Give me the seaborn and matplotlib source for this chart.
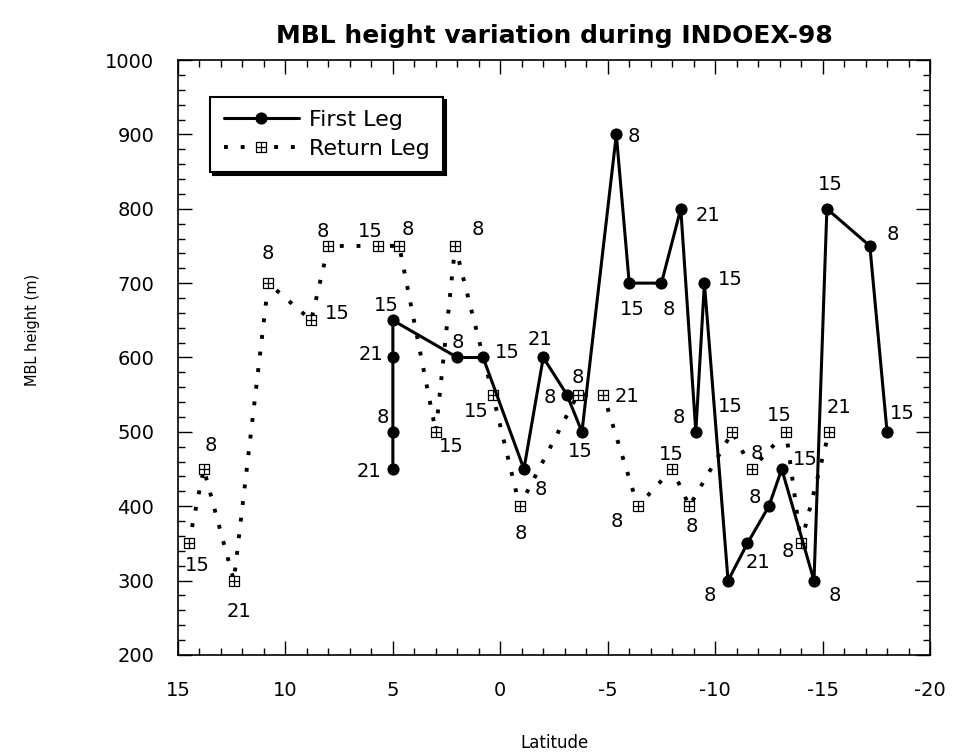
import matplotlib
matplotlib.use("Agg")
import matplotlib.pyplot as plt
from matplotlib.path import Path
import seaborn as sns
import pandas as pd

# ---- data ----
first_lat = [5, 5, 5, 5, 2, 0.8, -1.1, -2, -3.1, -3.8, -5.4, -6, -7.5, -8.4, -9.1,
             -9.5, -10.6, -11.5, -12.5, -13.1, -14.6, -15.2, -17.2, -18]
first_h = [450, 500, 600, 650, 600, 600, 450, 600, 550, 500, 900, 700, 700, 800, 500,
           700, 300, 350, 400, 450, 300, 800, 750, 500]
first_hour = ["21", "8", "21", "15", "8", "15", "8", "21", "8", "15", "8", "15", "8", "21", "8",
              "15", "8", "21", "8", "15", "8", "15", "8", "15"]

return_lat = [14.5, 13.8, 12.4, 10.8, 8.8, 8, 5.7, 4.7, 3, 2.1, 0.35, -0.9, -3.6, -4.8,
              -6.4, -8, -8.8, -10.8, -11.7, -13.3, -14, -15.3]
return_h = [350, 450, 300, 700, 650, 750, 750, 750, 500, 750, 550, 400, 550, 550,
            400, 450, 400, 500, 450, 500, 350, 500]
return_hour = ["15", "8", "21", "8", "15", "8", "15", "8", "15", "8", "15", "8", "8", "21",
               "8", "15", "8", "15", "8", "15", "8", "21"]

# label offsets (pixels) – layout only
first_off = [(-24, -2), (-10, 14), (-22, 3), (-7, 15), (0, 15), (24, 5), (17, -20), (-3, 18),
             (-17, -3), (-2, -20), (17, -2), (3, -26), (7, -26), (27, -7), (-17, 14), (26, 4),
             (-18, -15), (11, -19), (-14, 9), (24, 10), (21, -15), (3, 24), (23, 11), (15, 18)]
return_off = [(9, -22), (7, 24), (5, -31), (0, 30), (26, 7), (-6, 14), (-8, 14), (9, 16),
              (15, -15), (23, 16), (-16, -17), (1, -27), (0, 17), (24, -2), (-21, -15), (-1, 15),
              (2, -20), (-2, 25), (5, 16), (-7, 16), (-13, -8), (10, 24)]

sns.set_theme(style="ticks")
plt.rcParams["font.family"] = ["DejaVu Sans"]
plt.rcParams.update({"text.color": "black", "axes.labelcolor": "black",
                     "xtick.color": "black", "ytick.color": "black"})

fig = plt.figure(figsize=(9.58, 7.55), dpi=100)
ax = fig.add_axes([0.1858, 0.1325, 0.785, 0.788])

df1 = pd.DataFrame({"lat": first_lat, "h": first_h})
df2 = pd.DataFrame({"lat": return_lat, "h": return_h})

boxplus = Path([(-1, -1), (1, -1), (1, 1), (-1, 1), (-1, -1), (0, -1), (0, 1), (-1, 0), (1, 0)],
               [Path.MOVETO, Path.LINETO, Path.LINETO, Path.LINETO, Path.CLOSEPOLY,
                Path.MOVETO, Path.LINETO, Path.MOVETO, Path.LINETO])

sns.lineplot(data=df2, x="lat", y="h", sort=False, estimator=None, ax=ax,
             color="black", linewidth=2.8, linestyle=(0, (1, 3.3)), dash_capstyle="butt",
             marker=boxplus, markersize=7.5, markerfacecolor="white",
             markeredgecolor="black", markeredgewidth=0.9, label="Return Leg", zorder=2)
sns.lineplot(data=df1, x="lat", y="h", sort=False, estimator=None, ax=ax,
             color="black", linewidth=2.2, marker="o", markersize=8,
             markeredgecolor="black", label="First Leg", zorder=3)

for x, y, t, o in zip(first_lat, first_h, first_hour, first_off):
    ax.annotate(t, (x, y), xytext=o, textcoords="offset pixels",
                ha="center", va="center", fontsize=14, color="black")
for x, y, t, o in zip(return_lat, return_h, return_hour, return_off):
    ax.annotate(t, (x, y), xytext=o, textcoords="offset pixels",
                ha="center", va="center", fontsize=14, color="black")

ax.set_xlim(15, -20)
ax.set_ylim(200, 1000)
ax.set_xticks([15, 10, 5, 0, -5, -10, -15, -20])
ax.set_xticklabels(["15", "10", "5", "0", "-5", "-10", "-15", "-20"])
ax.set_yticks(range(200, 1001, 100))
ax.set_xticks([v for v in range(-20, 16)], minor=True)
ax.set_yticks(range(200, 1001, 20), minor=True)
ax.tick_params(which="both", direction="in", top=True, right=True, color="black", width=1)
ax.tick_params(which="major", length=10, labelsize=14, labelcolor="black")
ax.tick_params(axis="x", which="major", pad=19)
ax.tick_params(axis="y", which="major", pad=17)
ax.tick_params(which="minor", length=5)
for s in ax.spines.values():
    s.set_linewidth(1.2)
    s.set_color("black")

ax.set_xlabel("Latitude", fontsize=12, color="black")
ax.xaxis.label.set_va("center")
ax.xaxis.set_label_coords(0.5, -0.148)
ax.set_ylabel("MBL height (m)", fontsize=10.5, color="black")
ax.yaxis.label.set_va("center")
ax.yaxis.set_label_coords(-0.194, 0.546)
ax.set_title("MBL height variation during INDOEX-98", fontsize=18, fontweight="bold",
             pad=12, color="black")

handles, labels = ax.get_legend_handles_labels()
order = [labels.index("First Leg"), labels.index("Return Leg")]
leg = ax.legend([handles[i] for i in order], [labels[i] for i in order],
                loc="upper left", bbox_to_anchor=(0.043, 0.938), borderaxespad=0,
                fontsize=16, handlelength=3.4, handletextpad=0.45, fancybox=False,
                frameon=True, shadow={"color": "black", "alpha": 1.0},
                borderpad=0.6, labelspacing=0.38)
leg.get_frame().set_edgecolor("black")
leg.get_frame().set_linewidth(1.5)
leg.get_frame().set_alpha(1)
for t in leg.get_texts():
    t.set_color("black")

fig.savefig("out.png", dpi=100)
